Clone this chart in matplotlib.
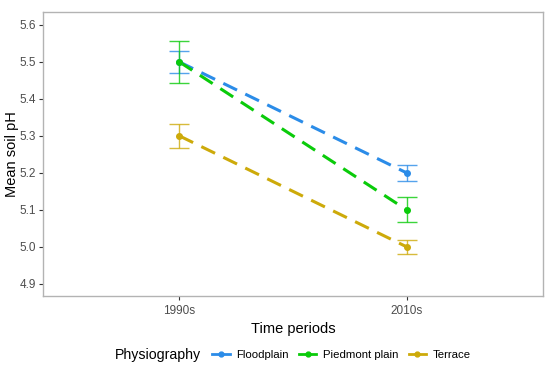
import numpy as np
import matplotlib
matplotlib.use('Agg')
import matplotlib.pyplot as plt
from matplotlib.lines import Line2D
from matplotlib.offsetbox import HPacker

periods = ['1990s', '2010s']
groups = ['Floodplain', 'Piedmont plain', 'Terrace']
colors = ['#2B8CE8', '#0ACB0A', '#CDAA0A']
means = {
    'Floodplain': [5.50, 5.20],
    'Piedmont plain': [5.50, 5.10],
    'Terrace': [5.30, 5.00],
}
errs = {
    'Floodplain': [0.030, 0.021],
    'Piedmont plain': [0.057, 0.034],
    'Terrace': [0.032, 0.019],
}
yticks = [4.9, 5.0, 5.1, 5.2, 5.3, 5.4, 5.5, 5.6]

plt.rcParams['font.family'] = ['Liberation Sans', 'DejaVu Sans']

fig = plt.figure(figsize=(5.5, 3.7), dpi=100)
ax = fig.add_axes([43/550, 1 - 296/370, 500/550, 284/370])

x = np.arange(1, len(periods) + 1)
for g, c in zip(groups, colors):
    ax.errorbar(x, means[g], yerr=errs[g], fmt='none', ecolor=c, elinewidth=1.0,
                capsize=7, capthick=1.0, alpha=0.8, zorder=2)
    ax.plot(x, means[g], color=c, lw=2.2, ls=(0, (5, 3)), zorder=3)
    ax.plot(x, means[g], 'o', color=c, ms=4, zorder=4)

ax.set_xlim(0.4, 2.6)
ax.set_ylim(4.867, 5.635)
ax.set_xticks(x)
ax.set_xticklabels(periods)
ax.set_yticks(yticks)
ax.set_yticklabels([f'{v:.1f}' for v in yticks])
ax.tick_params(colors='#333333', labelcolor='#4d4d4d', labelsize=8.5, length=3, width=0.8)
ax.tick_params(axis='y', pad=2)
for s in ax.spines.values():
    s.set_color('#b3b3b3')
    s.set_linewidth(1.0)

ax.set_xlabel('Time periods', fontsize=10.5, color='black')
ax.xaxis.set_label_coords(0.5, -(322 - 296) / 284, transform=ax.transAxes)
ax.set_ylabel('Mean soil pH', fontsize=10.5, color='black')
ax.yaxis.set_label_coords(-(43 - 19) / 500, 0.5, transform=ax.transAxes)

handles = [Line2D([0], [0], color=c, lw=2, marker='o', ms=3.5) for c in colors]
leg = fig.legend(handles, groups, loc='center', ncol=3, frameon=False,
                 fontsize=8.2, handlelength=1.5, columnspacing=0.9,
                 handletextpad=0.6, title='Physiography', title_fontsize=10.2)
# put title beside the entries
box = leg._legend_box
box.__class__ = HPacker
box.sep = 8
box.align = 'center'
leg.set_bbox_to_anchor((293 / 550, 1 - 355 / 370), transform=fig.transFigure)

fig.savefig('out.png', dpi=100)
